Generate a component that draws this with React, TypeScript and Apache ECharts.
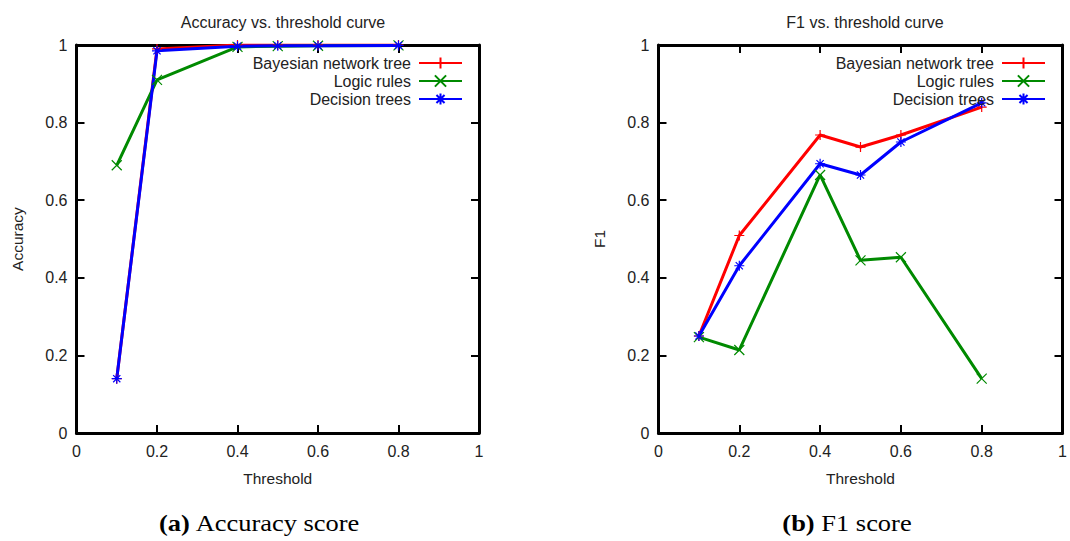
import React, { useEffect, useRef } from "react";
import * as echarts from "echarts";

const thresholds = [0.1, 0.2, 0.4, 0.5, 0.6, 0.8];
const seriesNames = ["Bayesian network tree", "Logic rules", "Decision trees"];

const accBayesian = [0.14, 0.99, 1.0, 1.0, 1.0, 1.0];
const accLogic = [0.69, 0.91, 0.995, 0.997, 0.998, 0.999];
const accDecision = [0.14, 0.985, 0.997, 0.998, 0.998, 0.999];

const f1Bayesian = [0.25, 0.509, 0.768, 0.737, 0.768, 0.84];
const f1Logic = [0.247, 0.214, 0.665, 0.445, 0.453, 0.14];
const f1Decision = [0.25, 0.431, 0.694, 0.665, 0.75, 0.851];

const axisTicks = [0, 0.2, 0.4, 0.6, 0.8, 1];

const colors = ["#ff0000", "#008a00", "#0000ff"];
const symbols = [
  "path://M-5,0L5,0M0,-5L0,5",
  "path://M-4,-4L4,4M-4,4L4,-4",
  "path://M-5,0L5,0M0,-5L0,5M-3.6,-3.6L3.6,3.6M-3.6,3.6L3.6,-3.6",
];

const FONT = "Liberation Sans, Arial, sans-serif";
const SERIF = "Liberation Serif, Times New Roman, serif";

function pairs(values: number[]) {
  return thresholds.map((t, i) => [t, values[i]]);
}

function mkSeries(name: string, values: number[], idx: number, axis: number) {
  return {
    name,
    type: "line",
    xAxisIndex: axis,
    yAxisIndex: axis,
    data: pairs(values),
    symbol: symbols[idx],
    symbolSize: 10,
    showSymbol: true,
    lineStyle: { color: colors[idx], width: 3 },
    itemStyle: { color: colors[idx], borderColor: colors[idx], borderWidth: 1.2 },
    emphasis: { disabled: true },
  };
}

function mainX(gridIndex: number) {
  return {
    gridIndex,
    type: "value",
    min: axisTicks[0],
    max: axisTicks[axisTicks.length - 1],
    interval: 0.2,
    position: "bottom",
    name: "Threshold",
    nameLocation: "middle",
    nameGap: 37,
    nameTextStyle: { fontFamily: FONT, fontSize: 15.5, color: "#222" },
    axisLine: { show: true, lineStyle: { color: "#000", width: 3 } },
    axisTick: { show: true, inside: true, length: 8, lineStyle: { color: "#000", width: 2 } },
    axisLabel: { show: true, fontFamily: FONT, fontSize: 16, color: "#222", margin: 10 },
    splitLine: { show: false },
  };
}

function mirrorX(gridIndex: number) {
  return {
    gridIndex,
    type: "value",
    min: 0,
    max: 1,
    interval: 0.2,
    position: "top",
    axisLine: { show: true, onZero: false, lineStyle: { color: "#000", width: 3 } },
    axisTick: { show: true, inside: true, length: 8, lineStyle: { color: "#000", width: 2 } },
    axisLabel: { show: false },
    splitLine: { show: false },
  };
}

function mainY(gridIndex: number, name: string, gap: number) {
  return {
    gridIndex,
    type: "value",
    min: 0,
    max: 1,
    interval: 0.2,
    position: "left",
    name,
    nameLocation: "middle",
    nameGap: gap,
    nameTextStyle: { fontFamily: FONT, fontSize: 15.5, color: "#222" },
    axisLine: { show: true, lineStyle: { color: "#000", width: 3 } },
    axisTick: { show: true, inside: true, length: 8, lineStyle: { color: "#000", width: 2 } },
    axisLabel: { show: true, fontFamily: FONT, fontSize: 16, color: "#222", margin: 9 },
    splitLine: { show: false },
  };
}

function mirrorY(gridIndex: number) {
  return {
    gridIndex,
    type: "value",
    min: 0,
    max: 1,
    interval: 0.2,
    position: "right",
    axisLine: { show: true, onZero: false, lineStyle: { color: "#000", width: 3 } },
    axisTick: { show: true, inside: true, length: 8, lineStyle: { color: "#000", width: 2 } },
    axisLabel: { show: false },
    splitLine: { show: false },
  };
}

function mkLegend(right: number) {
  return {
    orient: "vertical",
    align: "right",
    right,
    top: 55,
    itemWidth: 43,
    itemHeight: 14,
    itemGap: 2,
    padding: 0,
    selectedMode: false,
    data: seriesNames,
    textStyle: { fontFamily: FONT, fontSize: 16, color: "#222", padding: [0, 3, 0, 0] },
  };
}

export default function App() {
  const ref = useRef<HTMLDivElement>(null);
  useEffect(() => {
    if (!ref.current) return;
    const chart = echarts.init(ref.current, null, { renderer: "svg" });
    chart.setOption({
      animation: false,
      backgroundColor: "#fff",
      title: [
        {
          text: "Accuracy vs. threshold curve",
          left: 278,
          top: 9,
          textAlign: "center",
          textStyle: { fontFamily: FONT, fontSize: 16, fontWeight: "normal", color: "#222" },
        },
        {
          text: "F1 vs. threshold curve",
          left: 860,
          top: 9,
          textAlign: "center",
          textStyle: { fontFamily: FONT, fontSize: 16, fontWeight: "normal", color: "#222" },
        },
      ],
      legend: [mkLegend(1070 - 463), mkLegend(1070 - 1046)],
      grid: [
        { left: 76.5, top: 45, width: 402.5, height: 388 },
        { left: 658.5, top: 45, width: 404, height: 388 },
      ],
      xAxis: [mainX(0), mirrorX(0), mainX(1), mirrorX(1)],
      yAxis: [mainY(0, "Accuracy", 51), mirrorY(0), mainY(1, "F1", 51), mirrorY(1)],
      series: [
        mkSeries(seriesNames[0], accBayesian, 0, 0),
        mkSeries(seriesNames[1], accLogic, 1, 0),
        mkSeries(seriesNames[2], accDecision, 2, 0),
        mkSeries(seriesNames[0], f1Bayesian, 0, 2),
        mkSeries(seriesNames[1], f1Logic, 1, 2),
        mkSeries(seriesNames[2], f1Decision, 2, 2),
      ],
      graphic: [
        {
          type: "text",
          x: 259.5,
          y: 523,
          scaleX: 1.15,
          style: {
            text: "{b|(a)} Accuracy score",
            align: "center",
            verticalAlign: "middle",
            fontFamily: SERIF,
            fontSize: 23,
            fill: "#000",
            rich: { b: { fontWeight: "bold", fontFamily: SERIF, fontSize: 23 } },
          },
        },
        {
          type: "text",
          x: 847,
          y: 523,
          scaleX: 1.15,
          style: {
            text: "{b|(b)} F1 score",
            align: "center",
            verticalAlign: "middle",
            fontFamily: SERIF,
            fontSize: 23,
            fill: "#000",
            rich: { b: { fontWeight: "bold", fontFamily: SERIF, fontSize: 23 } },
          },
        },
      ],
    });
    return () => chart.dispose();
  }, []);
  return (
    <div
      ref={ref}
      style={{ position: "fixed", left: 0, top: 0, width: 1070, height: 541, background: "#fff" }}
    />
  );
}
